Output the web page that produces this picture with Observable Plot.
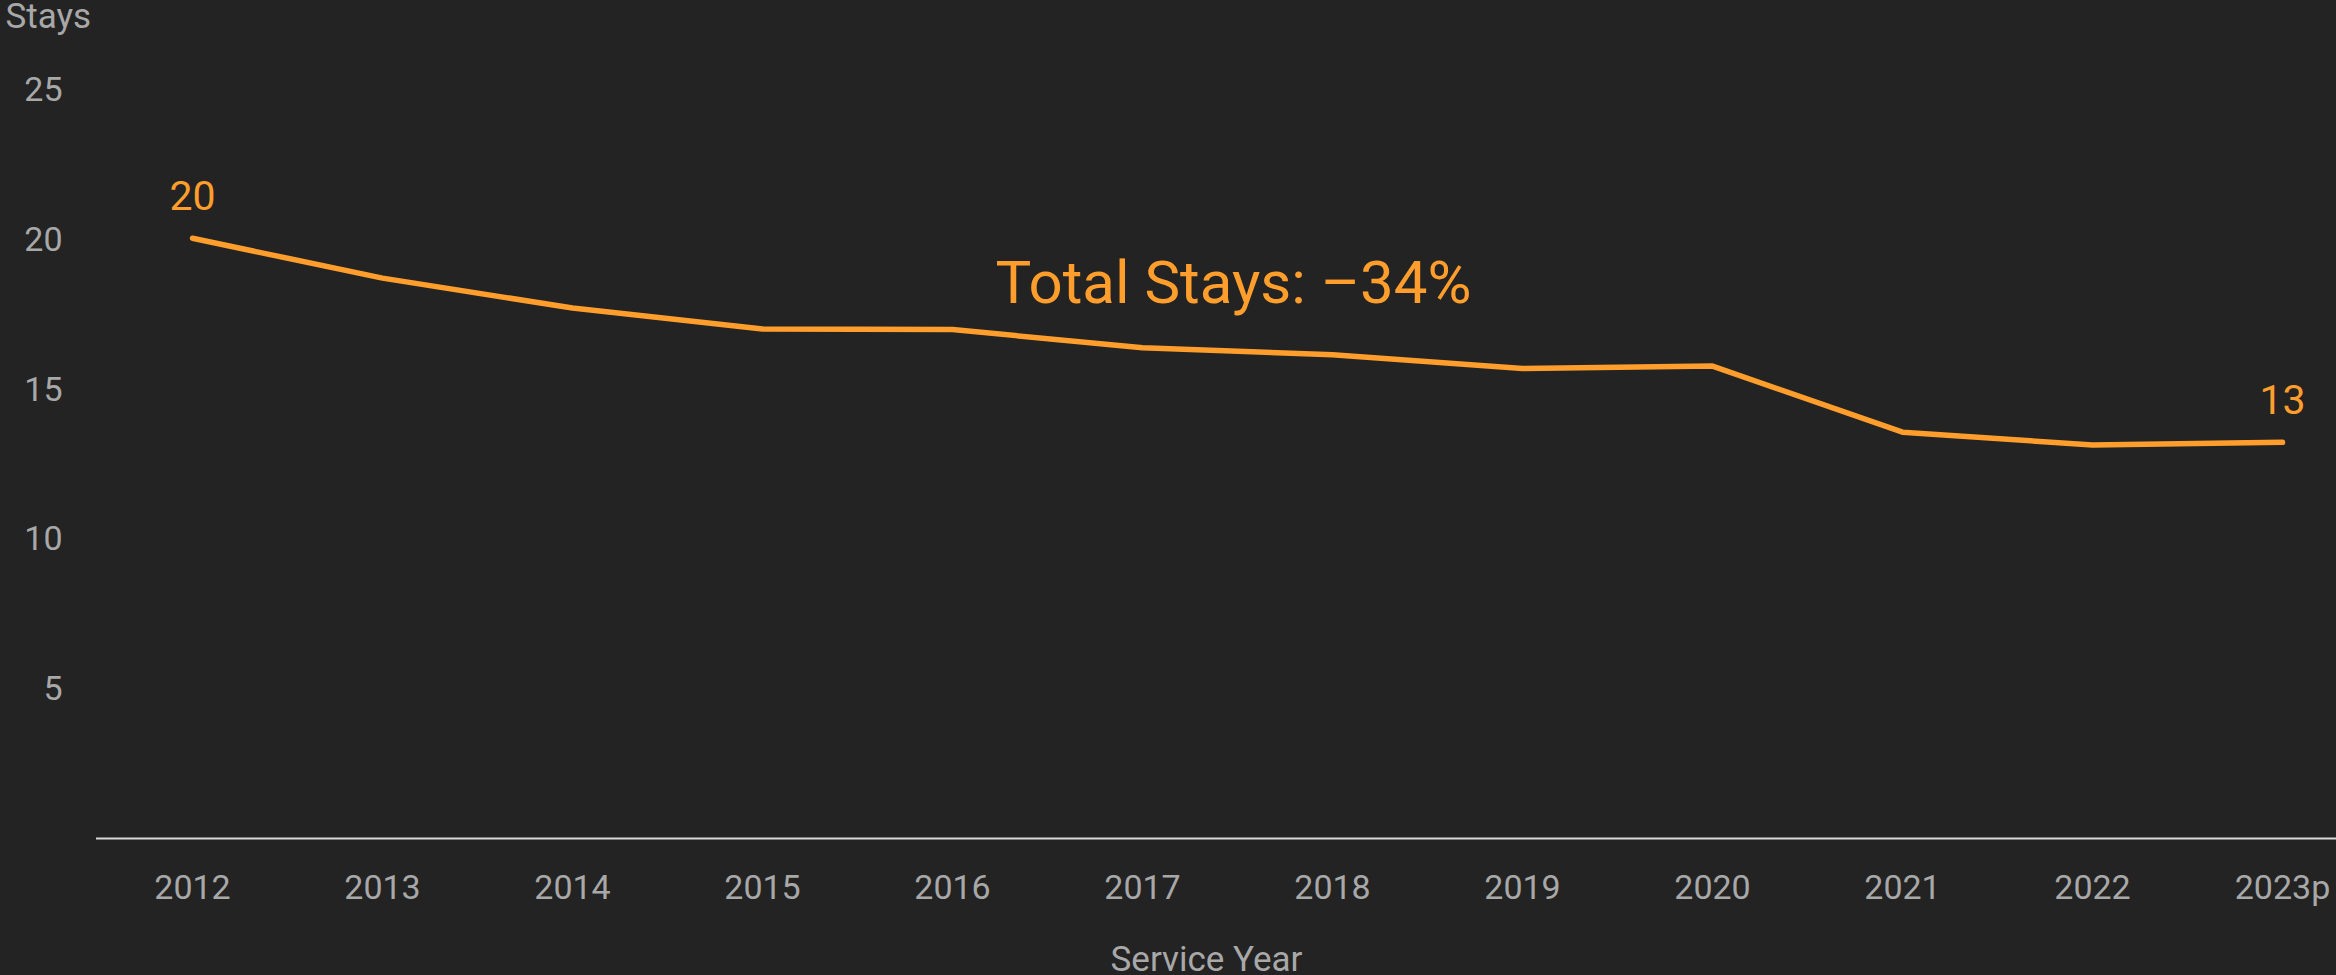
<!DOCTYPE html>
<html>
<head>
<meta charset="utf-8">
<script src="https://cdn.jsdelivr.net/npm/d3@7"></script>
<script src="https://cdn.jsdelivr.net/npm/@observablehq/plot@0.6"></script>
<style>
  html, body { margin: 0; padding: 0; background: #232323; }
</style>
</head>
<body>
<div id="chart"></div>
<script>
// Average stays per service year (2023 is a projection)
const years = ["2012", "2013", "2014", "2015", "2016", "2017", "2018", "2019", "2020", "2021", "2022", "2023p"];
const stays = [20.06, 18.73, 17.73, 17.03, 17.01, 16.40, 16.17, 15.71, 15.79, 13.58, 13.15, 13.24];
const yTicks = [5, 10, 15, 20, 25];
const annotationYear = "2017";

const orange = "#ff9e2c";
const grey = "#a8a8a8";

const data = years.map((year, i) => ({year, stays: stays[i]}));
const ends = [data[0], data[data.length - 1]];

// Overall change from the first to the last year
const pct = Math.round((stays[stays.length - 1] / stays[0] - 1) * 100);
const annotationText = `Total Stays: ${pct < 0 ? "\u2013" : "+"}${Math.abs(pct)}%`;
const annotation = [{year: annotationYear, stays: stays[years.indexOf(annotationYear)], text: annotationText}];

const chart = Plot.plot({
  width: 2336,
  height: 975,
  marginLeft: 96,
  marginRight: -42,
  marginTop: 90,
  marginBottom: 137,
  style: {background: "#232323", color: grey, fontFamily: "Roboto, sans-serif", fontSize: "34px"},
  x: {type: "point", domain: years, padding: 0.5, label: null},
  y: {domain: [0, 25], label: null},
  marks: [
    Plot.axisY({ticks: yTicks, tickSize: 0, tickPadding: 34, label: null, fontSize: 34, fill: grey}),
    Plot.axisX({tickSize: 0, tickPadding: 36, label: null, fontSize: 34, fill: grey}),
    Plot.ruleY([0], {stroke: "#d9d9d9", strokeWidth: 2}),
    Plot.line(data, {x: "year", y: "stays", stroke: orange, strokeWidth: 5.5}),
    Plot.text(ends, {
      x: "year", y: "stays",
      text: d => d3.format(".0f")(d.stays),
      lineAnchor: "bottom", dy: -28,
      fill: orange, fontSize: 41
    }),
    Plot.text(annotation, {
      x: "year", y: "stays", text: "text",
      textAnchor: "middle", lineAnchor: "bottom", dx: 91, dy: -45,
      fill: orange, fontSize: 60
    }),
    Plot.text(["Stays"], {
      frameAnchor: "top-left", text: d => d,
      textAnchor: "start", lineAnchor: "bottom", dx: -91, dy: -63,
      fill: grey, fontSize: 35
    }),
    Plot.text(["Service Year"], {
      frameAnchor: "bottom", text: d => d,
      textAnchor: "middle", lineAnchor: "bottom", dx: -31, dy: 132,
      fill: grey, fontSize: 35
    })
  ]
});

document.getElementById("chart").append(chart);
</script>
</body>
</html>
